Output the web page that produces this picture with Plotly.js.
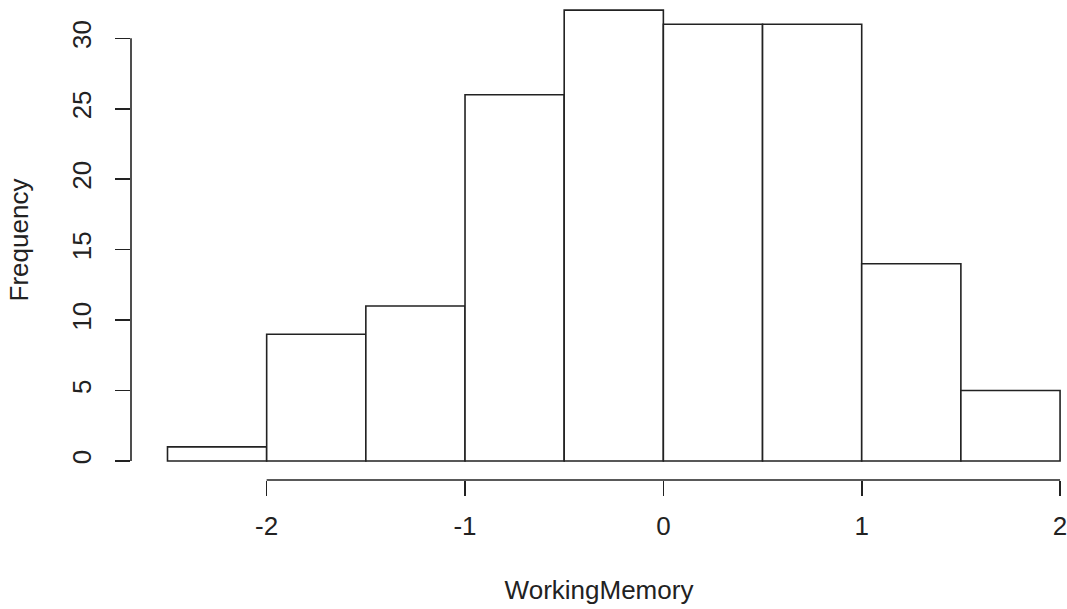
<!DOCTYPE html>
<html>
<head>
<meta charset="utf-8">
<script src="https://cdn.plot.ly/plotly-3.0.1.min.js"></script>
<style>html,body{margin:0;padding:0;background:#fff;}#chart{width:1067px;height:609px;}</style>
</head>
<body>
<div id="chart"></div>
<script>
// Histogram of WorkingMemory: bins of width 0.5 from -2.5 to 2
var binCenters = [-2.25, -1.75, -1.25, -0.75, -0.25, 0.25, 0.75, 1.25, 1.75];
var frequencies = [1, 9, 11, 26, 32, 31, 31, 14, 5];
var xTicks = [-2, -1, 0, 1, 2];
var yTicks = [0, 5, 10, 15, 20, 25, 30];

var ink = '#222222';
var fontFamily = 'Liberation Sans, Arial, sans-serif';

var trace = {
  type: 'bar',
  x: binCenters,
  y: frequencies,
  width: 0.5,
  marker: { color: '#ffffff', line: { color: ink, width: 1.6 } },
  hoverinfo: 'x+y'
};

var layout = {
  width: 1067,
  height: 609,
  margin: { l: 131, r: 0, t: 0, b: 129 },
  paper_bgcolor: '#ffffff',
  plot_bgcolor: '#ffffff',
  showlegend: false,
  font: { family: fontFamily, size: 26, color: ink },
  xaxis: {
    range: [-2.684, 2.035],
    tickvals: xTicks,
    ticktext: xTicks.map(String),
    ticks: 'outside',
    ticklen: 15,
    tickwidth: 1.6,
    tickcolor: ink,
    showline: false,
    showgrid: false,
    zeroline: false,
    ticklabelstandoff: 8,
    ticklabeloverflow: 'allow',
    title: { text: 'WorkingMemory', standoff: 40, font: { family: fontFamily, size: 26, color: ink } },
    automargin: false
  },
  yaxis: {
    range: [-1.35, 32.72],
    tickvals: yTicks,
    ticktext: yTicks.map(String),
    tickangle: -90,
    ticks: 'outside',
    ticklen: 15,
    tickwidth: 1.6,
    tickcolor: ink,
    showline: false,
    showgrid: false,
    zeroline: false,
    ticklabelstandoff: 14,
    ticklabeloverflow: 'allow',
    title: { text: 'Frequency', standoff: 30, font: { family: fontFamily, size: 26, color: ink } },
    automargin: false
  },
  shapes: [
    { type: 'line', xref: 'x', yref: 'paper', x0: xTicks[0], x1: xTicks[xTicks.length - 1], y0: 0, y1: 0,
      line: { color: ink, width: 1.6 } },
    { type: 'line', xref: 'paper', yref: 'y', x0: 0, x1: 0, y0: yTicks[0], y1: yTicks[yTicks.length - 1],
      line: { color: ink, width: 1.6 } }
  ]
};

Plotly.newPlot('chart', [trace], layout, { displayModeBar: false, staticPlot: true });
</script>
</body>
</html>
